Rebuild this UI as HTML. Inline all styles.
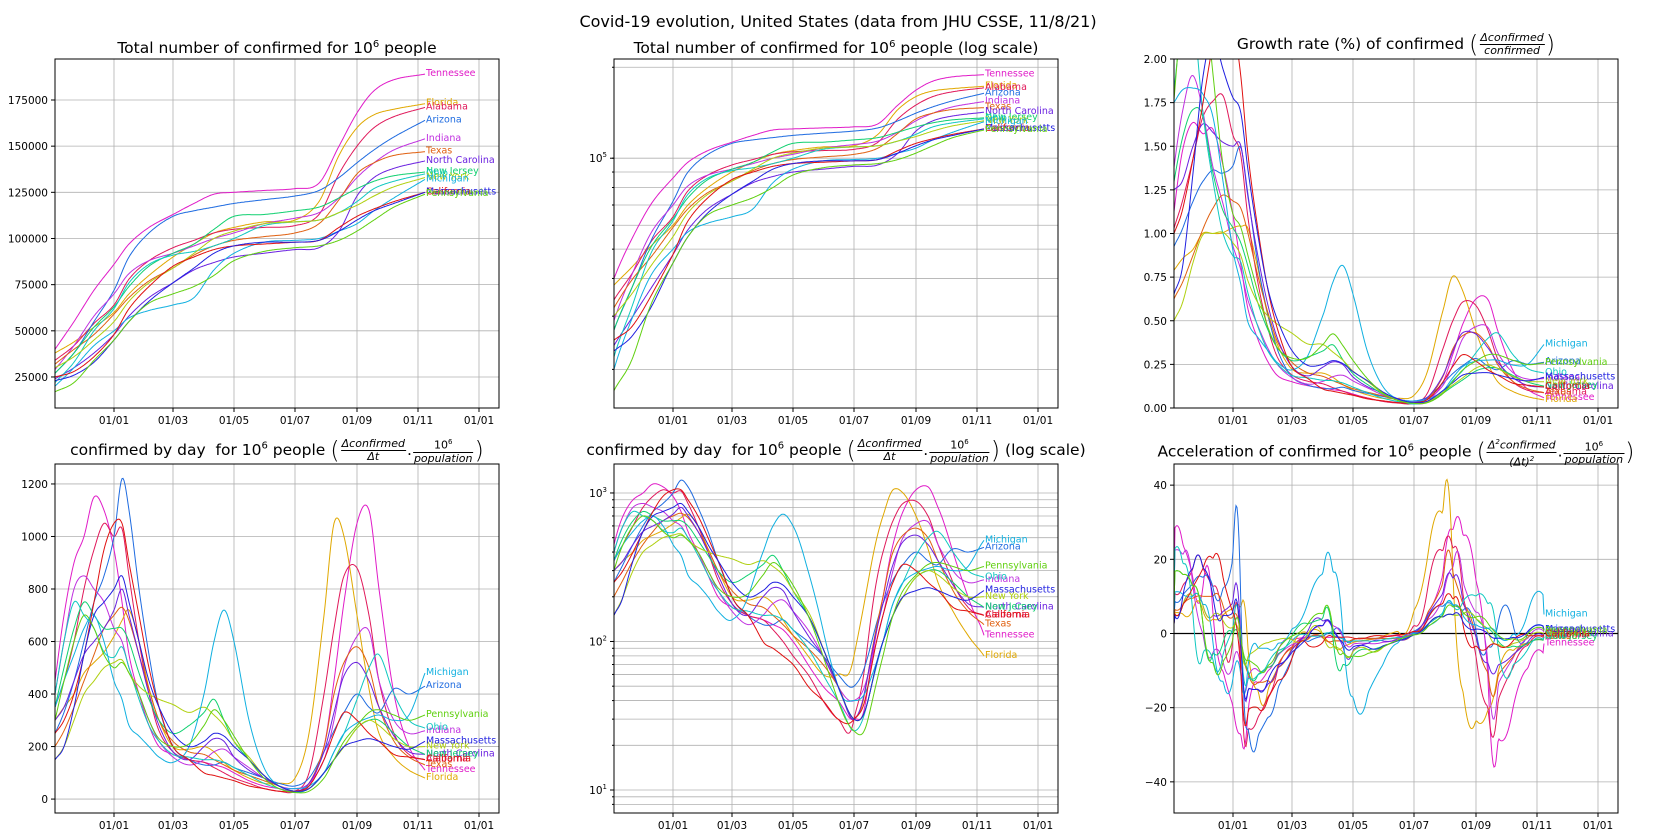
<!DOCTYPE html>
<html><head><meta charset="utf-8">
<style>
body{margin:0;background:#fff;width:1675px;height:840px;overflow:hidden;position:relative;font-family:"DejaVu Sans","Liberation Sans",sans-serif;}
svg{position:absolute;left:0;top:0;}
.ttl{position:absolute;white-space:nowrap;font-size:15.5px;color:#000;transform:translateX(-50%);line-height:20px;}
.frac{display:inline-block;vertical-align:middle;text-align:center;font-style:italic;font-size:11px;line-height:12px;margin:0 1px;}
.frac .n{display:block;border-bottom:1px solid #000;padding:0 1px;}
.frac .d{display:block;padding:0 1px;}
.par{font-size:24px;font-weight:100;vertical-align:middle;}
</style></head>
<body>
<div class="ttl" style="left:838px;top:12px;font-size:16px;">Covid-19 evolution, United States (data from JHU CSSE, 11/8/21)</div>
<div class="ttl" style="left:277px;top:35px;">Total number of confirmed for 10<sup style="font-size:10px">6</sup> people</div>
<div class="ttl" style="left:836px;top:35px;">Total number of confirmed for 10<sup style="font-size:10px">6</sup> people (log scale)</div>
<div class="ttl" style="left:1396px;top:32px;">Growth rate (%) of confirmed <span class="par">(</span><span class="frac"><span class="n">Δconfirmed</span><span class="d">confirmed</span></span><span class="par">)</span></div>
<div class="ttl" style="left:277px;top:436px;">confirmed by day&nbsp; for 10<sup style="font-size:10px">6</sup> people <span class="par">(</span><span class="frac"><span class="n">Δconfirmed</span><span class="d">Δt</span></span>.<span class="frac"><span class="n" style="font-style:normal">10<sup style="font-size:7px">6</sup></span><span class="d">population</span></span><span class="par">)</span></div>
<div class="ttl" style="left:836px;top:436px;">confirmed by day&nbsp; for 10<sup style="font-size:10px">6</sup> people <span class="par">(</span><span class="frac"><span class="n">Δconfirmed</span><span class="d">Δt</span></span>.<span class="frac"><span class="n" style="font-style:normal">10<sup style="font-size:7px">6</sup></span><span class="d">population</span></span><span class="par">)</span> (log scale)</div>
<div class="ttl" style="left:1396px;top:436px;">Acceleration of confirmed for 10<sup style="font-size:10px">6</sup> people <span class="par">(</span><span class="frac"><span class="n">Δ<sup style="font-size:7px">2</sup>confirmed</span><span class="d">(Δt)<sup style="font-size:7px">2</sup></span></span>.<span class="frac"><span class="n" style="font-style:normal">10<sup style="font-size:7px">6</sup></span><span class="d">population</span></span><span class="par">)</span></div>
<svg id="chart" width="1675" height="840"></svg>
<script>
// ---- data ----
const STATES = ["Tennessee","Florida","Alabama","Arizona","Indiana","Texas","North Carolina","New Jersey","Ohio","New York","Michigan","California","Massachusetts","Pennsylvania"];
const COLORS = ["#e01bc8","#e0a800","#e0185a","#1e6be0","#c030e0","#e06010","#6a20e0","#10d070","#10c8c0","#b0d010","#10b0e0","#e01010","#2020e0","#60d010"];
// day offsets from 2021-01-01
const DAYS_CUM = [-59,-40,-20,0,15,35,59,80,100,120,150,181,205,225,243,260,280,311];
const DAYS_DAILY = [-59,-50,-40,-30,-20,-10,0,8,15,25,35,45,59,75,90,100,110,120,135,150,165,181,195,210,220,230,243,255,265,280,295,311];
const X_TICK_DAYS = [0,59,120,181,243,304,365];
const X_TICK_LABELS = ["01/01","01/03","01/05","01/07","01/09","01/11","01/01"];
// cumulative confirmed per 1e6 (thousands)
const CUM_TENNESSEE = [40,55,72,86,97,106,113,119,124,125,126,127,130,150,168,180,186,189];
const CUM_FLORIDA = [38,44,52,60,70,80,90,97,103,106,109,110,120,145,160,167,170,173];
const CUM_ALABAMA = [34,42,54,64,78,88,95,99,103,105,106,107,113,135,150,160,166,171];
const CUM_ARIZONA = [27,38,55,72,90,103,112,115,117,119,121,123,126,133,141,148,155,164];
const CUM_INDIANA = [29,42,58,70,81,88,92,96,100,103,108,111,114,122,133,141,148,154];
const CUM_TEXAS = [32,40,48,59,68,77,84,91,96,99,101,103,108,121,135,141,145,147];
const CUM_NCAROLINA = [24,30,38,48,58,68,76,83,87,90,92,94,95,104,123,133,138,142];
const CUM_NJERSEY = [27,38,52,63,74,85,92,97,105,112,113,115,117,122,127,131,134,136];
const CUM_OHIO = [22,33,50,62,76,86,91,93,96,100,107,109,110,114,120,127,131,135];
const CUM_NYORK = [30,36,45,55,66,76,84,92,100,104,108,109,110,114,118,123,128,133];
const CUM_MICHIGAN = [20,30,42,50,57,61,64,68,83,92,98,99,100,104,108,115,122,132];
const CUM_CALIFORNIA = [25,28,36,48,62,74,85,90,94,96,97,98,99,106,112,116,120,125];
const CUM_MASSACHUSETTS = [23,26,33,45,55,66,76,84,92,96,98,98,99,104,110,115,119,125];
const CUM_PENNSYLVANIA = [17,22,34,45,55,65,70,74,80,88,93,95,96,99,104,110,117,124];
// daily confirmed per 1e6
const DAY_TENNESSEE = [450,700,900,1000,1150,1100,950,750,550,400,280,200,170,150,140,130,120,100,70,50,40,30,50,200,450,750,1050,1100,800,400,200,110];
const DAY_FLORIDA = [300,350,400,480,520,560,620,680,720,600,420,300,200,190,200,180,140,110,80,60,60,80,250,700,1050,1000,700,420,250,160,110,80];
const DAY_ALABAMA = [350,450,600,800,950,1050,1000,1030,850,600,400,260,180,150,140,120,100,80,60,40,30,30,100,400,650,850,880,700,450,250,170,150];
const DAY_ARIZONA = [250,330,450,600,750,850,1000,1220,1100,800,550,350,200,150,130,130,140,120,100,80,60,50,80,180,260,330,400,350,330,420,400,430];
const DAY_INDIANA = [400,600,800,850,800,750,650,600,500,400,300,220,160,130,150,180,190,160,120,80,50,40,60,150,300,500,620,640,450,300,250,260];
const DAY_TEXAS = [200,260,350,450,550,650,700,730,680,550,420,300,220,180,170,150,130,110,90,70,50,30,60,200,400,520,580,500,350,220,160,130];
const DAY_NCAROLINA = [300,350,450,550,600,650,720,800,700,550,400,280,180,150,200,230,220,160,110,80,50,30,60,180,330,470,520,450,350,240,180,170];
const DAY_NJERSEY = [350,500,650,750,700,650,650,650,600,480,380,300,250,280,330,380,300,220,150,90,50,30,40,100,150,200,270,300,300,250,200,170];
const DAY_OHIO = [400,600,750,700,650,560,540,580,500,380,280,220,170,160,150,150,140,120,90,60,40,25,40,100,180,250,380,500,550,400,300,270];
const DAY_NYORK = [150,200,300,400,450,500,520,530,480,430,400,380,360,330,350,320,280,220,160,90,50,30,40,100,150,200,270,300,280,230,200,200];
const DAY_MICHIGAN = [350,450,550,650,700,600,450,380,280,240,200,160,140,200,400,600,720,600,300,120,50,40,50,100,180,250,290,310,320,300,320,480];
const DAY_CALIFORNIA = [250,300,400,550,750,950,1050,1050,900,700,500,350,200,150,100,90,80,70,50,40,30,30,50,150,250,330,300,250,220,170,160,150];
const DAY_MASSACHUSETTS = [150,200,350,550,700,750,800,850,750,600,450,350,250,200,220,250,240,200,150,90,50,30,40,100,150,200,220,230,220,200,190,220];
const DAY_PENNSYLVANIA = [300,450,600,700,650,550,500,520,480,400,300,230,200,210,280,340,300,240,150,80,40,25,30,80,150,220,280,330,340,320,300,320];

const CUM = [CUM_TENNESSEE,CUM_FLORIDA,CUM_ALABAMA,CUM_ARIZONA,CUM_INDIANA,CUM_TEXAS,CUM_NCAROLINA,CUM_NJERSEY,CUM_OHIO,CUM_NYORK,CUM_MICHIGAN,CUM_CALIFORNIA,CUM_MASSACHUSETTS,CUM_PENNSYLVANIA];
const DAILY = [DAY_TENNESSEE,DAY_FLORIDA,DAY_ALABAMA,DAY_ARIZONA,DAY_INDIANA,DAY_TEXAS,DAY_NCAROLINA,DAY_NJERSEY,DAY_OHIO,DAY_NYORK,DAY_MICHIGAN,DAY_CALIFORNIA,DAY_MASSACHUSETTS,DAY_PENNSYLVANIA];

// ---- helpers ----
const NS = "http://www.w3.org/2000/svg";
const svg = document.getElementById("chart");
function mk(tag, attrs, parent){const e=document.createElementNS(NS,tag);for(const k in attrs)e.setAttribute(k,attrs[k]);(parent||svg).appendChild(e);return e;}
function interp(xs, ys, x){
  const n=xs.length;
  if(x<=xs[0])return ys[0]; if(x>=xs[n-1])return ys[n-1];
  let i=0; while(xs[i+1]<x)i++;
  const m=k=>{if(k===0)return (ys[1]-ys[0])/(xs[1]-xs[0]); if(k===n-1)return (ys[n-1]-ys[n-2])/(xs[n-1]-xs[n-2]); return (ys[k+1]-ys[k-1])/(xs[k+1]-xs[k-1]);};
  const h=xs[i+1]-xs[i], t=(x-xs[i])/h, t2=t*t, t3=t2*t;
  return (2*t3-3*t2+1)*ys[i]+(t3-2*t2+t)*h*m(i)+(-2*t3+3*t2)*ys[i+1]+(t3-t2)*h*m(i+1);
}
const cumAt=(s,t)=>interp(DAYS_CUM,CUM[s],t)*1000;
const dailyAt=(s,t)=>Math.max(1,interp(DAYS_DAILY,DAILY[s],t));
const growthAt=(s,t)=>dailyAt(s,t)/cumAt(s,t)*100;
const accelAt=(s,t)=>(dailyAt(s,t+1)-dailyAt(s,t-1))/2;

const X0=-59, X1=385, PW=444, PH=349;
const PANELS=[
 {id:"total",left:55,top:59,min:8200,max:197200,log:false,ticks:[25000,50000,75000,100000,125000,150000,175000],fmt:v=>String(v),f:cumAt},
 {id:"total-log",left:614,top:59,min:14900,max:213000,log:true,major:[100000],f:cumAt},
 {id:"growth",left:1174,top:59,min:0,max:2,log:false,ticks:[0,0.25,0.5,0.75,1,1.25,1.5,1.75,2],fmt:v=>v.toFixed(2),f:growthAt},
 {id:"daily",left:55,top:464,min:-53,max:1276,log:false,ticks:[0,200,400,600,800,1000,1200],fmt:v=>String(v),f:dailyAt},
 {id:"daily-log",left:614,top:464,min:7.0,max:1567,log:true,major:[10,100,1000],f:dailyAt},
 {id:"accel",left:1174,top:464,min:-48.4,max:45.7,log:false,ticks:[-40,-20,0,20,40],fmt:v=>v<0?"−"+(-v):String(v),f:accelAt,zero:true}
];

PANELS.forEach((p,pi)=>{
  const g=mk("g",{});
  
  
  const xs=t=>p.left+(t-X0)/(X1-X0)*PW;
  const ys=v=>{
    if(p.log){const a=Math.log10(p.min),b=Math.log10(p.max);return p.top+PH-(Math.log10(Math.max(v,1e-9))-a)/(b-a)*PH;}
    return p.top+PH-(v-p.min)/(p.max-p.min)*PH;
  };
  const clipId="clip"+pi;
  const cp=mk("clipPath",{id:clipId},g); mk("rect",{x:p.left,y:p.top,width:PW,height:PH},cp);
  const grid=mk("g",{stroke:"#b0b0b0","stroke-width":"0.8"},g);
  
  
  X_TICK_DAYS.forEach(d=>mk("line",{x1:xs(d),x2:xs(d),y1:p.top,y2:p.top+PH},grid));
  let yt=[];
  if(p.log){
    for(let e=0;e<7;e++)for(let m=1;m<10;m++){const v=m*Math.pow(10,e);if(v>p.min&&v<p.max)yt.push(v);}
  } else yt=p.ticks;
  yt.forEach(v=>mk("line",{x1:p.left,x2:p.left+PW,y1:ys(v),y2:ys(v)},grid));
  if(p.zero){const z=mk("line",{x1:p.left,x2:p.left+PW,y1:ys(0),y2:ys(0),stroke:"#000","stroke-width":"1.2"},g);
    
    }
  const sg=mk("g",{"clip-path":"url(#"+clipId+")",fill:"none","stroke-width":"1"},g);
  STATES.forEach((st,s)=>{
    let d="";
    for(let t=-59;t<=311;t+=1){const v=p.f(s,t);d+=(t===-59?"M":"L")+xs(t).toFixed(1)+","+ys(v).toFixed(1);}
    const path=mk("path",{d:d,stroke:COLORS[s]},sg);
    
    
  });
  STATES.forEach((st,s)=>{
    const v=p.f(s,311);
    let y=ys(v); y=Math.max(p.top+8,Math.min(p.top+PH-2,y));
    const tx=mk("text",{x:xs(311)+1,y:y+2,fill:COLORS[s],"font-size":"9.5","font-family":"DejaVu Sans, sans-serif"},g);
    tx.textContent=st;
    
    
  });
  const fr=mk("rect",{x:p.left,y:p.top,width:PW,height:PH,fill:"none",stroke:"#000","stroke-width":"1"},g);
  
  
  X_TICK_DAYS.forEach((d,i)=>{
    mk("line",{x1:xs(d),x2:xs(d),y1:p.top+PH,y2:p.top+PH+4,stroke:"#000"},g);
    const t=mk("text",{x:xs(d),y:p.top+PH+16,"text-anchor":"middle","font-size":"10.5","font-family":"DejaVu Sans, sans-serif"},g);
    t.textContent=X_TICK_LABELS[i];
    
    
  });
  if(p.log){
    p.major.forEach(v=>{
      mk("line",{x1:p.left-4,x2:p.left,y1:ys(v),y2:ys(v),stroke:"#000"},g);
      const t=mk("text",{x:p.left-7,y:ys(v)+4,"text-anchor":"end","font-size":"10.5","font-family":"DejaVu Sans, sans-serif"},g);
      t.textContent="10";
      const sup=mk("tspan",{dy:"-5","font-size":"7"},t); sup.textContent=String(Math.round(Math.log10(v)));
      
      
    });
    yt.forEach(v=>mk("line",{x1:p.left-2,x2:p.left,y1:ys(v),y2:ys(v),stroke:"#000"},g));
  } else {
    p.ticks.forEach(v=>{
      mk("line",{x1:p.left-4,x2:p.left,y1:ys(v),y2:ys(v),stroke:"#000"},g);
      const t=mk("text",{x:p.left-7,y:ys(v)+4,"text-anchor":"end","font-size":"10.5","font-family":"DejaVu Sans, sans-serif"},g);
      t.textContent=p.fmt(v);
      
      
    });
  }
});
</script>
</body></html>
